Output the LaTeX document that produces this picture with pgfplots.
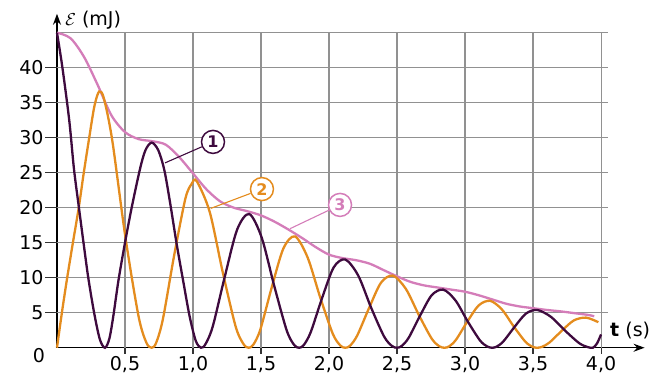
\documentclass[border=0pt]{standalone}
\usepackage{fontspec}
\setmainfont{DejaVu Sans}
\usepackage{pgfplots}
\pgfplotsset{compat=1.18}
\usetikzlibrary{arrows.meta}
\definecolor{c1}{RGB}{62,10,62}
\definecolor{c2}{RGB}{228,140,30}
\definecolor{c3}{RGB}{212,125,185}
\definecolor{gridc}{RGB}{145,145,145}
\begin{document}
\begin{tikzpicture}
\begin{axis}[
  scale only axis, width=587.5pt, height=333.9pt,
  xmin=0, xmax=4.32, ymin=0, ymax=47.7,
  axis lines=left,
  axis line style={line width=1.3pt, -{Stealth[length=11pt,width=8pt]}},
  clip=false,
  major tick length=0pt,
  /pgf/number format/assume math mode=true,
  xtick={0.5,1,1.5,2,2.5,3,3.5,4},
  xticklabels={{0,5},{1,0},{1,5},{2,0},{2,5},{3,0},{3,5},{4,0}},
  ytick={5,10,15,20,25,30,35,40},
  yticklabels={5,10,15,20,25,30,35,40},
  ticklabel style={font=\fontsize{19}{21}\selectfont},
  xticklabel style={yshift=-5pt},
  yticklabel style={xshift=-10pt},
]
% grid
\pgfplotsinvokeforeach{5,10,15,20,25,30,35,40,45}{
  \draw[gridc, line width=1.1pt] (axis cs:0,#1) -- (axis cs:4.05,#1);
}
\pgfplotsinvokeforeach{5,10,15,20,25,30,35,40}{
  \draw[black!80, line width=1.1pt] (axis cs:0,#1) -- ++(-12pt,0);
}
\pgfplotsinvokeforeach{0.5,1,1.5,2,2.5,3,3.5,4}{
  \draw[gridc, line width=1.1pt] (axis cs:#1,0) -- (axis cs:#1,45);
  \draw[black!80, line width=1.1pt] (axis cs:#1,0) -- ++(0,-6pt);
}
% curve 3 (total)
\addplot[c3, line width=2.3pt, smooth] coordinates {
(0,45) (0.1,44.2) (0.2,41.5) (0.3,37.5) (0.4,33.2) (0.5,30.8) (0.6,29.8)
(0.7,29.5) (0.8,29.0) (0.9,27.2) (1.0,24.9) (1.1,22.6) (1.2,20.9) (1.3,20.0)
(1.4,19.5) (1.5,18.9) (1.6,18.0) (1.7,16.9) (1.8,15.7) (1.9,14.4) (2.0,13.3)
(2.1,12.8) (2.2,12.5) (2.3,12.0) (2.4,11.1) (2.5,10.2) (2.6,9.4) (2.7,8.9)
(2.8,8.6) (2.9,8.3) (3.0,8.0) (3.1,7.5) (3.2,6.9) (3.3,6.3) (3.4,5.9)
(3.5,5.65) (3.6,5.4) (3.7,5.2) (3.8,4.95) (3.9,4.7) (3.95,4.5)
};
% curve 2 (orange)
\addplot[c2, line width=2.3pt, smooth] coordinates {
(0,0) (0.036,5) (0.075,10) (0.117,15) (0.16,20) (0.197,25) (0.237,30)
(0.275,34.5) (0.31,36.6) (0.345,35.6) (0.4065,29.6) (0.503,15.8) (0.5995,4.5)
(0.657,0.73) (0.696,0) (0.729,0.7) (0.7788,4.1) (0.8615,13.2) (0.944,21.3)
(0.99,23.4) (1.027,23.8) (1.1228,19.4) (1.2185,10.8) (1.314,3.0) (1.372,0.5)
(1.41,0) (1.444,0.45) (1.495,2.6) (1.58,8.7) (1.665,14.2) (1.75,15.9)
(1.8425,12.9) (1.935,7.2) (2.0275,2.0) (2.083,0.32) (2.12,0) (2.155,0.3)
(2.2075,1.75) (2.295,5.7) (2.3825,9.3) (2.47,10.3) (2.565,8.4) (2.66,4.7)
(2.755,1.3) (2.812,0.2) (2.85,0) (2.8835,0.2) (2.934,1.15) (3.0175,3.75)
(3.101,6.06) (3.185,6.7) (3.271,5.47) (3.3575,3.05) (3.444,0.85) (3.4955,0.14)
(3.53,0) (3.566,0.13) (3.62,0.73) (3.71,2.4) (3.80,3.9) (3.89,4.3) (3.98,3.65)
};
% curve 1 (dark)
\addplot[c1, line width=2.3pt, smooth] coordinates {
(0,45) (0.04,40) (0.09,32.5) (0.125,25.5) (0.16,20.2) (0.195,15) (0.23,10)
(0.273,5) (0.315,1.2) (0.353,0) (0.385,1.3) (0.414,4.5) (0.451,9.5) (0.50,15)
(0.549,20) (0.61,25.5) (0.65,28.2) (0.696,29.3) (0.745,28.2) (0.79,25.3)
(0.835,20.3) (0.88,14.8) (0.93,9.3) (0.975,4.5) (1.02,1.0) (1.058,0)
(1.0927,0.55) (1.146,3.1) (1.2355,10.3) (1.325,16.9) (1.414,19.1)
(1.5055,15.7) (1.597,8.85) (1.6885,2.5) (1.7434,0.4) (1.78,0) (1.814,0.38)
(1.865,2.2) (1.95,7.15) (2.035,11.5) (2.12,12.6) (2.215,10.3) (2.31,5.7)
(2.405,1.6) (2.462,0.26) (2.50,0) (2.534,0.25) (2.585,1.4) (2.67,4.6)
(2.755,7.5) (2.84,8.3) (2.93,6.75) (3.02,3.75) (3.11,1.04) (3.164,0.17)
(3.20,0) (3.233,0.16) (3.2825,0.92) (3.365,3.0) (3.4475,4.87) (3.53,5.4)
(3.6325,4.4) (3.735,2.45) (3.8375,0.68) (3.899,0.11) (3.94,0) (3.97,0.6) (4.0,1.9)
};
% labels
\node[circle, draw=c1, line width=1.5pt, text=c1, minimum size=23pt, inner sep=0pt,
  fill=white, font=\fontsize{16}{16}\selectfont\bfseries] (n1) at (axis cs:1.147,29.4) {1};
\draw[c1, line width=1.1pt] (axis cs:0.794,26.4) -- (n1);
\node[circle, draw=c2, line width=1.5pt, text=c2, minimum size=23pt, inner sep=0pt,
  fill=white, font=\fontsize{16}{16}\selectfont\bfseries] (n2) at (axis cs:1.507,22.66) {2};
\draw[c2, line width=1.1pt] (axis cs:1.13,19.9) -- (n2);
\node[circle, draw=c3, line width=1.5pt, text=c3, minimum size=23pt, inner sep=0pt,
  fill=white, font=\fontsize{16}{16}\selectfont\bfseries] (n3) at (axis cs:2.081,20.4) {3};
\draw[c3, line width=1.1pt] (axis cs:1.713,17.0) -- (n3);
\node[anchor=west, inner sep=0pt, font=\fontsize{19}{21}\selectfont] at (axis cs:0.06,46.8) {$\mathcal{E}$ (mJ)};
\node[anchor=west, inner sep=0pt, font=\fontsize{19}{21}\selectfont] at (axis cs:4.066,2.4) {\textbf{t} (s)};
\node[font=\fontsize{19}{21}\selectfont] at (axis cs:-0.132,-1.19) {0};
\path (axis cs:-0.419,-4.04) rectangle (axis cs:4.404,49.67);
\end{axis}
\end{tikzpicture}
\end{document}
